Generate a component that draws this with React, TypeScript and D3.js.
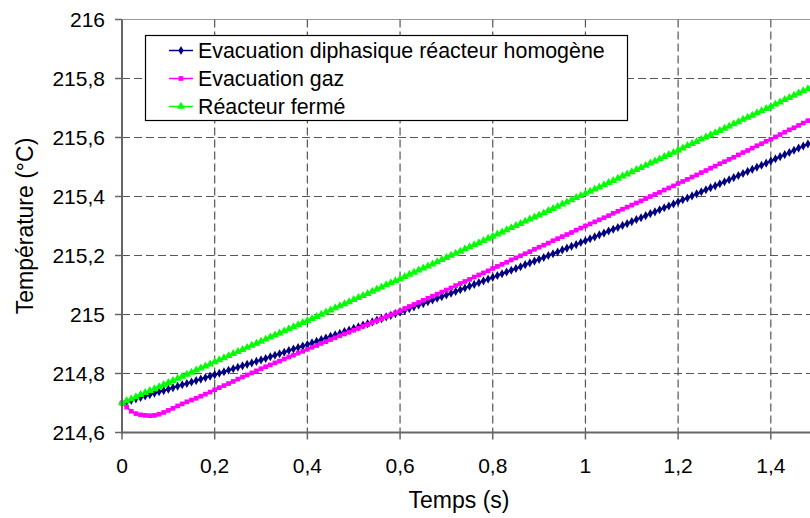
import * as React from 'react';
import * as d3 from 'd3';

// temps (s), pas de 0,01 s
const times: number[] = d3.range(0, 151).map((i: number) => i / 100);

// Evacuation diphasique réacteur homogène
const diphasique: number[] = [
    214.700, 214.705, 214.709, 214.714, 214.719, 214.724, 214.728, 214.733, 214.738, 214.742,
    214.747, 214.752, 214.757, 214.762, 214.766, 214.771, 214.776, 214.781, 214.786, 214.791,
    214.796, 214.801, 214.806, 214.811, 214.816, 214.821, 214.826, 214.831, 214.836, 214.841,
    214.846, 214.851, 214.857, 214.862, 214.867, 214.872, 214.878, 214.883, 214.888, 214.893,
    214.898, 214.904, 214.909, 214.915, 214.920, 214.926, 214.931, 214.936, 214.942, 214.947,
    214.953, 214.958, 214.964, 214.969, 214.975, 214.981, 214.986, 214.992, 214.997, 215.003,
    215.008, 215.014, 215.020, 215.026, 215.032, 215.037, 215.043, 215.049, 215.055, 215.060,
    215.066, 215.072, 215.078, 215.084, 215.090, 215.096, 215.102, 215.108, 215.114, 215.120,
    215.126, 215.132, 215.138, 215.144, 215.150, 215.156, 215.162, 215.169, 215.175, 215.181,
    215.187, 215.193, 215.200, 215.206, 215.212, 215.219, 215.225, 215.231, 215.237, 215.244,
    215.250, 215.257, 215.263, 215.270, 215.276, 215.283, 215.289, 215.295, 215.302, 215.308,
    215.315, 215.322, 215.328, 215.335, 215.342, 215.348, 215.355, 215.362, 215.368, 215.375,
    215.382, 215.389, 215.395, 215.402, 215.409, 215.416, 215.423, 215.430, 215.436, 215.443,
    215.450, 215.457, 215.464, 215.471, 215.478, 215.485, 215.492, 215.499, 215.506, 215.513,
    215.520, 215.528, 215.535, 215.542, 215.549, 215.557, 215.564, 215.571, 215.578, 215.585,
    215.593,
];

// Evacuation gaz
const gaz: number[] = [
    214.700, 214.686, 214.672, 214.664, 214.660, 214.658, 214.657, 214.658, 214.662, 214.668,
    214.675, 214.682, 214.690, 214.697, 214.704, 214.710, 214.716, 214.723, 214.730, 214.737,
    214.745, 214.752, 214.759, 214.766, 214.773, 214.781, 214.788, 214.795, 214.802, 214.809,
    214.816, 214.823, 214.829, 214.836, 214.842, 214.849, 214.856, 214.862, 214.869, 214.875,
    214.882, 214.889, 214.895, 214.902, 214.908, 214.915, 214.921, 214.928, 214.934, 214.940,
    214.947, 214.953, 214.960, 214.966, 214.973, 214.979, 214.986, 214.993, 214.999, 215.006,
    215.012, 215.020, 215.027, 215.034, 215.041, 215.048, 215.055, 215.062, 215.069, 215.076,
    215.083, 215.090, 215.098, 215.105, 215.112, 215.119, 215.127, 215.134, 215.141, 215.148,
    215.156, 215.163, 215.170, 215.177, 215.185, 215.192, 215.199, 215.206, 215.213, 215.221,
    215.228, 215.235, 215.242, 215.250, 215.257, 215.264, 215.271, 215.278, 215.286, 215.293,
    215.300, 215.307, 215.314, 215.321, 215.328, 215.335, 215.343, 215.350, 215.357, 215.364,
    215.371, 215.378, 215.385, 215.393, 215.400, 215.407, 215.414, 215.422, 215.429, 215.436,
    215.444, 215.451, 215.458, 215.466, 215.473, 215.481, 215.488, 215.496, 215.503, 215.511,
    215.518, 215.526, 215.533, 215.541, 215.549, 215.556, 215.564, 215.572, 215.579, 215.587,
    215.594, 215.602, 215.610, 215.618, 215.626, 215.633, 215.641, 215.649, 215.657, 215.665,
    215.673,
];

// Réacteur fermé
const ferme: number[] = [
    214.700, 214.707, 214.714, 214.721, 214.728, 214.735, 214.742, 214.748, 214.755, 214.762,
    214.769, 214.776, 214.783, 214.790, 214.797, 214.804, 214.811, 214.818, 214.825, 214.832,
    214.839, 214.846, 214.853, 214.860, 214.867, 214.874, 214.881, 214.888, 214.895, 214.902,
    214.909, 214.916, 214.923, 214.930, 214.937, 214.944, 214.951, 214.958, 214.965, 214.972,
    214.979, 214.986, 214.993, 215.000, 215.008, 215.015, 215.022, 215.029, 215.036, 215.043,
    215.050, 215.057, 215.064, 215.071, 215.078, 215.086, 215.093, 215.100, 215.107, 215.114,
    215.121, 215.128, 215.136, 215.143, 215.150, 215.157, 215.164, 215.171, 215.178, 215.186,
    215.193, 215.200, 215.207, 215.214, 215.222, 215.229, 215.236, 215.243, 215.250, 215.258,
    215.265, 215.272, 215.279, 215.287, 215.294, 215.301, 215.308, 215.316, 215.323, 215.330,
    215.337, 215.344, 215.352, 215.359, 215.366, 215.374, 215.381, 215.388, 215.396, 215.403,
    215.410, 215.417, 215.425, 215.432, 215.439, 215.447, 215.454, 215.461, 215.469, 215.476,
    215.483, 215.491, 215.498, 215.505, 215.513, 215.520, 215.527, 215.535, 215.542, 215.549,
    215.557, 215.564, 215.572, 215.579, 215.586, 215.594, 215.601, 215.609, 215.616, 215.623,
    215.631, 215.638, 215.646, 215.653, 215.661, 215.668, 215.675, 215.683, 215.690, 215.698,
    215.705, 215.713, 215.720, 215.728, 215.735, 215.743, 215.750, 215.758, 215.765, 215.773,
    215.780,
];

// 1,6 existe mais tombe hors du cadre visible
const xTicks: number[] = [0, 0.2, 0.4, 0.6, 0.8, 1, 1.2, 1.4, 1.6];
const yTicks: number[] = [214.6, 214.8, 215, 215.2, 215.4, 215.6, 215.8, 216];

const seriesNames: string[] = ['Evacuation diphasique réacteur homogène', 'Evacuation gaz', 'Réacteur fermé'];
const seriesColors: string[] = ['#000080', '#ff00ff', '#00ff00'];
const seriesValues: number[][] = [diphasique, gaz, ferme];
const seriesSymbols = [d3.symbolDiamond, d3.symbolSquare, d3.symbolTriangle];
const symbolSizes: number[] = [24, 22, 28];

const frNum = (v: number) => d3.format('~g')(+v.toFixed(1)).replace('.', ',');

export default function App() {
    const width = 810;
    const height = 518;
    const left = 122;
    const top = 19.5;
    const bottom = 432.5;
    const plotRight = 863.5; // le graphique est coupé à droite

    const x = d3.scaleLinear().domain([0, 1.6]).range([left, plotRight]);
    const y = d3.scaleLinear().domain([214.6, 216]).range([bottom, top]);

    const line = d3.line<[number, number]>()
        .x((d: [number, number]) => x(d[0]))
        .y((d: [number, number]) => y(d[1]));

    const font = 'Liberation Sans, Arial, sans-serif';

    return (
        <svg width={width} height={height} style={{ position: 'absolute', left: 0, top: 0, background: '#fff' }}
            fontFamily={font}>
            <rect x={0} y={0} width={width} height={height} fill="#fff" />
            {/* bordure haute */}
            <line x1={left} x2={plotRight} y1={top} y2={top} stroke="#999" strokeWidth={1.2} />
            {/* grille */}
            {yTicks.filter((t: number) => t > 214.65 && t < 215.95).map((t: number) => (
                <line key={'gy' + t} x1={left} x2={plotRight} y1={y(t)} y2={y(t)}
                    stroke="#555" strokeWidth={1.2} strokeDasharray="8,4" />
            ))}
            {xTicks.filter((t: number) => t > 0.05).map((t: number) => (
                <line key={'gx' + t} x1={x(t)} x2={x(t)} y1={top} y2={bottom}
                    stroke="#555" strokeWidth={1.2} strokeDasharray="8,4" />
            ))}
            {/* séries */}
            {seriesValues.map((vals: number[], si: number) => {
                const pts: [number, number][] = vals.map((v: number, i: number) => [times[i], v]);
                const sym = d3.symbol().type(seriesSymbols[si]).size(symbolSizes[si])();
                return (
                    <g key={'s' + si}>
                        <path d={line(pts) || ''} fill="none" stroke={seriesColors[si]} strokeWidth={2} />
                        {pts.map((p: [number, number], i: number) => (
                            <path key={i} d={sym || ''} transform={`translate(${x(p[0])},${y(p[1])})`}
                                fill={seriesColors[si]} />
                        ))}
                    </g>
                );
            })}
            {/* axes */}
            <line x1={left} x2={left} y1={top} y2={bottom + 1} stroke="#666" strokeWidth={2} />
            <line x1={left - 1} x2={plotRight} y1={bottom} y2={bottom} stroke="#666" strokeWidth={2} />
            {yTicks.map((t: number) => (
                <g key={'yt' + t}>
                    <line x1={left - 7} x2={left} y1={y(t)} y2={y(t)} stroke="#666" strokeWidth={1.5} />
                    <text x={105} y={y(t)} dy="0.36em" textAnchor="end" fontSize={21} fill="#000">{frNum(t)}</text>
                </g>
            ))}
            {xTicks.map((t: number) => (
                <g key={'xt' + t}>
                    <line x1={x(t)} x2={x(t)} y1={bottom} y2={bottom + 7} stroke="#666" strokeWidth={1.5} />
                    {x(t) < width - 20 && (
                        <text x={x(t)} y={473} textAnchor="middle" fontSize={21} fill="#000">{frNum(t)}</text>
                    )}
                </g>
            ))}
            {/* titres */}
            <text x={459} y={508} textAnchor="middle" fontSize={23} fill="#000">Temps (s)</text>
            <text transform="translate(33,226) rotate(-90)" textAnchor="middle" fontSize={23} fill="#000">Température (°C)</text>
            {/* légende */}
            <rect x={145.5} y={35.5} width={482} height={85} fill="#fff" stroke="#000" strokeWidth={1.2} />
            {seriesNames.map((name: string, si: number) => {
                const ly = 50.5 + si * 28;
                const sym = d3.symbol().type(seriesSymbols[si]).size(symbolSizes[si])();
                return (
                    <g key={'lg' + si}>
                        <line x1={169} x2={193} y1={ly} y2={ly} stroke={seriesColors[si]} strokeWidth={1.5} />
                        <path d={sym || ''} transform={`translate(181,${ly})`} fill={seriesColors[si]} />
                        <text x={198} y={ly} dy="0.36em" fontSize={21.4} fill="#000">{name}</text>
                    </g>
                );
            })}
        </svg>
    );
}
